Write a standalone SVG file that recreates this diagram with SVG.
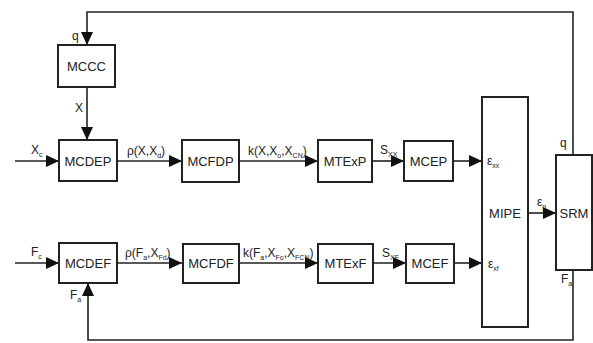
<svg xmlns="http://www.w3.org/2000/svg" width="593" height="343" viewBox="0 0 593 343">
<style>
.box{fill:#fff;stroke:#222;stroke-width:2}
.bt{font-family:"Liberation Sans",Arial,sans-serif;font-size:13px;fill:#222;text-anchor:middle;dominant-baseline:central}
.lb{font-family:"Liberation Sans",Arial,sans-serif;font-size:12px;fill:#222}
.sb{font-size:7px}
.ln{fill:none;stroke:#222;stroke-width:1.6}
</style>
<defs>
<marker id="ah" markerUnits="userSpaceOnUse" markerWidth="14" markerHeight="12" refX="13" refY="6" orient="auto">
<path d="M0,0 L13,6 L0,12 Z" fill="#111"/>
</marker>
</defs>
<g id="connectors">
<path class="ln" d="M573,155 V12 H87 V45" marker-end="url(#ah)"/>
<path class="ln" d="M87,87 V140" marker-end="url(#ah)"/>
<path class="ln" d="M15,161 H59" marker-end="url(#ah)"/>
<path class="ln" d="M117,161 H182" marker-end="url(#ah)"/>
<path class="ln" d="M239,161 H318" marker-end="url(#ah)"/>
<path class="ln" d="M372,161 H404" marker-end="url(#ah)"/>
<path class="ln" d="M453,161 H482" marker-end="url(#ah)"/>
<path class="ln" d="M15,263 H59" marker-end="url(#ah)"/>
<path class="ln" d="M117,263 H182" marker-end="url(#ah)"/>
<path class="ln" d="M239,263 H318" marker-end="url(#ah)"/>
<path class="ln" d="M373,263 H406" marker-end="url(#ah)"/>
<path class="ln" d="M454,263 H482" marker-end="url(#ah)"/>
<path class="ln" d="M528,213 H556" marker-end="url(#ah)"/>
<path class="ln" d="M573,270 V340 H88 V283" marker-end="url(#ah)"/>
</g>
<g id="MCCC"><rect class="box" x="58" y="45" width="57" height="42"/><text class="bt" x="86.5" y="66">MCCC</text></g>
<g id="MCDEP"><rect class="box" x="59" y="140" width="58" height="41"/><text class="bt" x="88" y="161">MCDEP</text></g>
<g id="MCFDP"><rect class="box" x="182" y="140" width="57" height="42"/><text class="bt" x="210.5" y="161">MCFDP</text></g>
<g id="MTExP"><rect class="box" x="318" y="140" width="54" height="42"/><text class="bt" x="345" y="161">MTExP</text></g>
<g id="MCEP"><rect class="box" x="404" y="141" width="49" height="40"/><text class="bt" x="428.5" y="161">MCEP</text></g>
<g id="MCDEF"><rect class="box" x="59" y="243" width="58" height="40"/><text class="bt" x="88" y="263">MCDEF</text></g>
<g id="MCFDF"><rect class="box" x="183" y="244" width="56" height="39"/><text class="bt" x="211" y="263">MCFDF</text></g>
<g id="MTExF"><rect class="box" x="318" y="244" width="55" height="39"/><text class="bt" x="345.5" y="263">MTExF</text></g>
<g id="MCEF"><rect class="box" x="406" y="244" width="48" height="39"/><text class="bt" x="430" y="263">MCEF</text></g>
<g id="MIPE"><rect class="box" x="482" y="97" width="46" height="230"/><text class="bt" x="505" y="213">MIPE</text></g>
<g id="SRM"><rect class="box" x="556" y="155" width="36" height="115"/><text class="bt" x="574" y="213">SRM</text></g>
<g id="labels">
<text class="lb" x="72" y="40">q</text>
<text class="lb" x="75" y="112">X</text>
<text class="lb" x="31" y="154">X<tspan class="sb" dy="3">c</tspan></text>
<text class="lb" x="127" y="155">ρ(X,X<tspan class="sb" dy="3">d</tspan><tspan dy="-3">)</tspan></text>
<text class="lb" x="248" y="155">k(X,X<tspan class="sb" dy="3">o</tspan><tspan dy="-3">,X</tspan><tspan class="sb" dy="3">CN</tspan><tspan dy="-3">)</tspan></text>
<text class="lb" x="380" y="154">S<tspan class="sb" dy="3">XX</tspan></text>
<text class="lb" x="487" y="165">ε<tspan class="sb" dy="3">xx</tspan></text>
<text class="lb" x="537" y="206">ε<tspan class="sb" dy="3">p</tspan></text>
<text class="lb" x="560" y="147">q</text>
<text class="lb" x="31" y="256">F<tspan class="sb" dy="3">c</tspan></text>
<text class="lb" x="125" y="257">ρ(F<tspan class="sb" dy="3">a</tspan><tspan dy="-3">,X</tspan><tspan class="sb" dy="3">Fd</tspan><tspan dy="-3">)</tspan></text>
<text class="lb" x="243" y="257">k(F<tspan class="sb" dy="3">a</tspan><tspan dy="-3">,X</tspan><tspan class="sb" dy="3">Fo</tspan><tspan dy="-3">,X</tspan><tspan class="sb" dy="3">FCN</tspan><tspan dy="-3">)</tspan></text>
<text class="lb" x="382" y="257">S<tspan class="sb" dy="3">XF</tspan></text>
<text class="lb" x="488" y="268">ε<tspan class="sb" dy="3">xf</tspan></text>
<text class="lb" x="70" y="299">F<tspan class="sb" dy="3">a</tspan></text>
<text class="lb" x="561" y="283">F<tspan class="sb" dy="3">a</tspan></text>
</g>
</svg>
